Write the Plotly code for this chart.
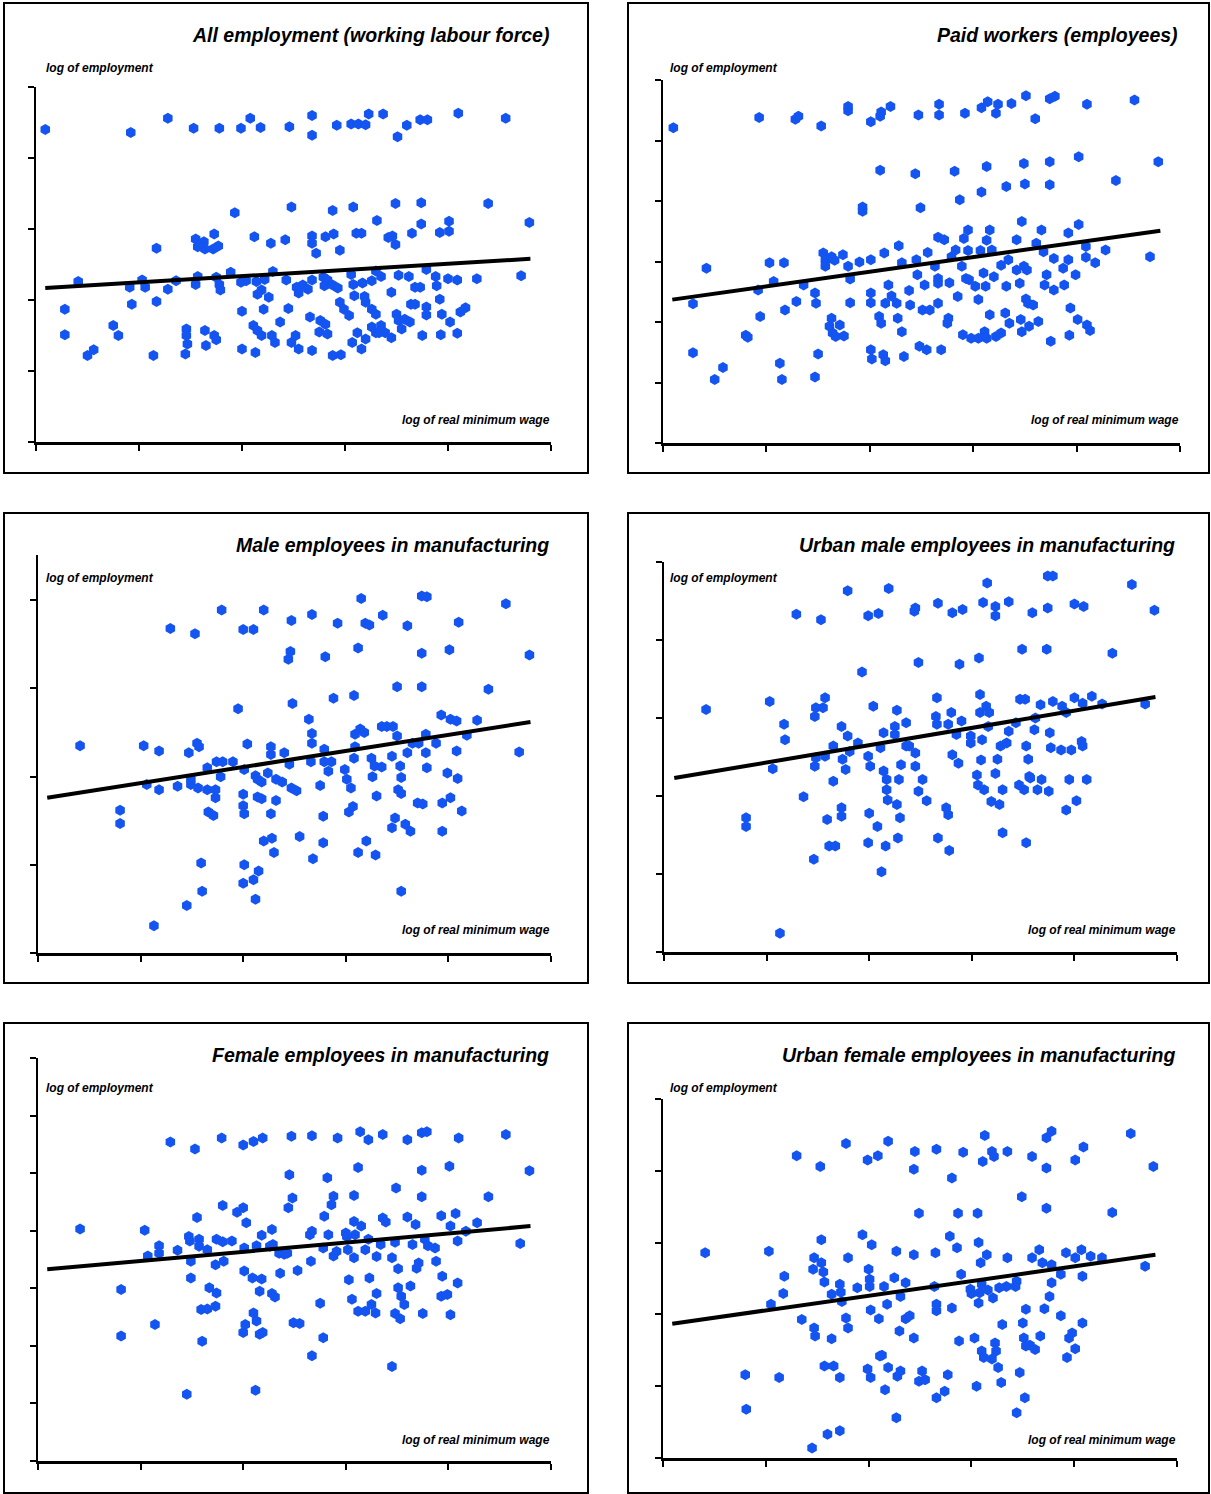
import plotly.graph_objects as go

# ---------------- data (arbitrary log units; axes carry no numeric labels) ----------------
titles = [
    "All employment (working labour force)",
    "Paid workers (employees)",
    "Male employees in manufacturing",
    "Urban male employees in manufacturing",
    "Female employees in manufacturing",
    "Urban female employees in manufacturing",
]
y_label = "log of employment"
x_label = "log of real minimum wage"

all_emp_points = [
    (0.09,4.40),(0.92,4.36),(1.28,4.56),(1.53,4.42),(1.78,4.42),(1.99,4.42),(2.08,4.56),(2.18,4.43),
    (2.46,4.44),(2.68,4.60),(2.68,4.32),(2.92,4.46),(3.06,4.48),(3.13,4.48),(3.20,4.47),(3.23,4.62),
    (3.37,4.62),(3.51,4.30),(3.60,4.46),(3.73,4.54),(3.80,4.54),(4.10,4.63),(4.56,4.56),
    (1.93,3.23),(2.48,3.31),(2.88,3.26),(3.08,3.31),(3.49,3.36),(3.74,3.37),(4.39,3.36),(4.79,3.09),
    (3.31,3.12),(3.74,3.07),(4.01,3.11),(4.01,2.97),(3.92,2.95),(3.65,2.94),(3.46,2.90),(3.42,2.88),
    (3.49,2.78),(3.16,2.94),(3.11,2.94),(2.95,2.70),(2.89,2.93),(2.81,2.89),(2.72,2.66),(2.68,2.90),
    (2.68,2.80),(2.42,2.85),(2.28,2.80),(2.12,2.89),(1.73,2.93),(1.77,2.76),(1.72,2.72),(1.64,2.72),
    (1.63,2.82),(1.55,2.86),(1.57,2.75),(1.17,2.73),
    (0.41,2.26),(0.91,2.18),(1.03,2.28),(1.06,2.18),(1.28,2.15),(1.36,2.27),(1.55,2.22),(1.57,2.33),
    (1.75,2.32),(1.78,2.22),(1.79,2.14),(1.89,2.39),(1.99,2.25),(2.04,2.27),(2.14,2.26),(2.19,2.14),
    (2.15,2.08),(2.22,2.29),(2.30,2.40),(2.26,2.04),(2.43,2.28),(2.53,2.18),(2.55,2.10),(2.59,2.21),
    (2.64,2.15),(2.68,2.28),(2.79,2.32),(2.80,2.20),(2.83,2.28),(2.88,2.21),(2.93,2.17),(3.06,2.36),
    (3.08,2.22),(3.09,2.06),(3.17,2.24),(3.19,2.05),(3.26,2.27),(3.30,2.41),(3.35,2.33),(3.45,2.11),
    (3.52,2.35),(3.62,2.33),(3.68,2.18),(3.73,2.18),(3.79,2.43),(3.88,2.33),(3.89,2.20),(4.00,2.30),
    (4.09,2.28),(4.28,2.30),(4.71,2.34),(3.92,2.01),(3.64,1.94),
    (0.28,1.87),(0.93,1.94),(1.17,1.98),(2.00,1.84),(2.21,1.87),(2.45,1.88),(2.37,1.69),(2.66,1.76),
    (2.95,1.97),(2.99,1.87),(3.04,1.78),(3.20,1.97),(3.26,1.87),(3.30,1.80),(3.68,1.94),(3.79,1.90),
    (3.79,1.79),(3.50,1.80),(3.52,1.71),(3.58,1.73),(3.63,1.69),(3.94,1.80),(4.17,1.89),(4.12,1.83),
    (4.02,1.69),
    (0.28,1.51),(0.75,1.64),(0.80,1.50),(1.46,1.59),(1.46,1.50),(1.47,1.38),(1.45,1.24),(1.64,1.57),
    (1.65,1.36),(1.73,1.50),(1.75,1.44),(2.11,1.64),(2.15,1.57),(2.19,1.50),(2.29,1.50),(2.32,1.40),
    (2.48,1.40),(2.52,1.50),(2.55,1.31),(2.76,1.71),(2.81,1.66),(2.75,1.55),(2.83,1.52),(3.07,1.40),
    (3.12,1.54),(3.16,1.31),(3.20,1.45),(3.26,1.62),(3.30,1.54),(3.33,1.54),(3.39,1.54),(3.45,1.47),
    (3.55,1.59),(3.75,1.50),(3.93,1.51),(4.09,1.53),(0.50,1.22),(0.56,1.30),(1.14,1.22),(2.00,1.31),
    (2.13,1.26),(2.68,1.29),(2.88,1.22),(2.96,1.23),(3.35,1.64),
]
all_emp_trend = [(0.09,2.17),(4.80,2.58)]

paid_points = [
    (0.10,5.21),(0.93,5.38),(1.28,5.35),(1.31,5.40),(1.53,5.24),(1.79,5.56),(1.79,5.49),(2.01,5.31),
    (2.10,5.40),(2.11,5.47),(2.20,5.56),(2.47,5.42),(2.67,5.60),(2.67,5.42),(2.92,5.45),(3.08,5.54),
    (3.14,5.64),(3.22,5.45),(3.24,5.60),(3.37,5.61),(3.51,5.74),(3.60,5.36),(3.74,5.69),(3.79,5.73),
    (4.10,5.60),(4.56,5.67),
    (2.10,4.51),(2.44,4.45),(2.82,4.49),(3.13,4.57),(3.49,4.62),(3.74,4.65),(4.02,4.73),(4.79,4.65),
    (4.38,4.34),(3.74,4.27),(3.50,4.28),(3.32,4.24),(3.08,4.15),(2.87,4.02),(2.49,3.89),(1.93,3.90),
    (1.93,3.83),
    (0.42,2.89),(0.29,2.30),(0.29,1.49),(0.50,1.05),(0.58,1.25),(0.80,1.78),(0.82,1.75),(0.92,2.53),
    (0.94,2.09),(1.03,2.98),(1.07,2.67),(1.17,2.98),(1.18,2.20),(1.13,1.32),(1.15,1.05),(1.29,2.34),
    (1.36,2.61),(1.47,2.48),(1.48,2.31),(1.50,1.47),(1.47,1.09),(1.55,3.14),(1.57,3.02),(1.57,2.92),
    (1.63,3.08),(1.66,3.02),(1.63,2.06),(1.61,1.93),(1.64,1.82),(1.67,1.76),(1.71,1.95),(1.75,1.77),
    (1.74,3.11),(1.79,2.92),(1.81,2.71),(1.81,2.32),(1.90,2.99),(2.01,3.03),(2.01,2.48),(2.01,2.32),
    (2.01,1.54),(2.02,1.39),(2.13,1.46),(2.15,1.36),(2.09,2.09),(2.11,1.98),(2.14,3.14),(2.18,2.61),
    (2.15,2.31),(2.21,2.43),(2.26,2.31),(2.27,2.06),(2.31,1.84),(2.33,1.43),(2.28,3.26),(2.31,2.98),
    (2.38,2.52),(2.39,2.28),(2.45,3.03),(2.46,2.78),(2.53,2.61),(2.51,2.20),(2.58,2.20),(2.56,3.15),
    (2.48,1.60),(2.55,1.54),(2.69,1.54),(2.63,2.92),(2.66,2.72),(2.66,2.64),(2.66,2.31),(2.76,2.06),
    (2.75,1.98),(2.77,2.65),(2.85,2.42),(2.90,1.79),(2.66,3.40),(2.72,3.36),(2.79,3.08),(2.83,3.19),
    (2.89,2.92),(2.91,3.38),(2.95,3.52),(2.95,3.18),(2.93,2.72),(2.96,2.70),(2.98,1.73),(3.05,1.73),
    (3.11,1.84),(3.13,1.73),(3.02,2.59),(3.05,2.37),(3.07,3.18),(3.10,2.81),(3.12,2.59),(3.16,2.12),
    (3.13,3.35),(3.16,3.52),(3.18,3.19),(3.20,2.75),(3.22,1.76),(3.27,1.82),(3.31,2.15),(3.27,2.94),
    (3.32,2.59),(3.35,1.98),(3.34,3.03),(3.42,3.36),(3.42,2.86),(3.45,2.64),(3.47,3.66),(3.49,2.92),
    (3.52,2.86),(3.51,2.38),(3.53,2.31),(3.58,2.28),(3.46,2.04),(3.47,1.84),(3.54,1.93),(3.63,2.01),
    (3.61,3.30),(3.66,3.52),(3.68,3.16),(3.69,2.61),(3.71,2.78),(3.75,1.68),(3.78,3.05),(3.78,2.53),
    (3.87,2.89),(3.88,2.61),(3.92,3.47),(3.92,3.03),(3.94,2.23),(3.93,1.78),(3.99,2.78),(4.02,3.61),
    (4.01,2.04),(4.09,3.25),(4.09,3.07),(4.10,1.95),(4.13,1.86),(4.18,2.98),(4.28,3.19),(4.71,3.08),
]
paid_trend = [(0.09,2.37),(4.81,3.51)]

male_points = [
    (0.41,2.35),(1.03,2.35),(1.18,2.29),(0.80,1.62),(0.80,1.47),(1.06,1.91),(1.18,1.85),(1.36,1.89),
    (1.47,2.27),(1.49,1.97),(1.49,1.91),(1.55,2.38),(1.57,2.34),(1.56,1.87),(1.65,2.10),(1.65,1.85),
    (1.66,1.60),(1.71,1.56),(1.73,1.85),(1.73,1.76),(1.74,2.17),(1.78,2.00),(1.80,2.17),(1.90,2.17),
    (1.95,2.77),(2.04,2.37),(2.01,2.08),(2.00,1.80),(2.00,1.67),(2.01,1.58),(2.01,1.00),(2.00,0.79),
    (2.10,0.83),(2.15,0.93),(2.12,0.61),(2.12,2.01),(2.14,1.97),(2.18,1.94),(2.14,1.77),(2.18,1.75),
    (2.20,1.27),(2.28,1.30),(2.30,1.14),(2.27,1.58),(2.32,1.73),(2.24,2.04),(2.27,2.25),(2.27,2.34),
    (2.32,1.97),(2.38,1.94),(2.40,2.27),(2.45,2.14),(2.46,3.42),(2.44,3.33),(2.48,2.83),(2.47,1.87),
    (2.52,1.84),(2.55,1.32),(2.64,2.65),(2.67,2.49),(2.67,2.38),(2.66,2.17),(2.68,1.07),(2.75,1.90),
    (2.78,1.55),(2.78,1.25),(2.80,3.36),(2.67,3.84),(2.79,2.31),(2.79,2.17),(2.83,2.06),(2.86,2.17),
    (2.88,2.89),(2.92,3.74),(2.99,2.08),(3.01,1.97),(3.03,1.60),(3.05,1.87),(3.07,1.66),(3.08,2.21),
    (3.09,2.34),(3.09,2.48),(3.08,2.92),(3.12,3.46),(3.14,2.54),(3.15,4.02),(3.18,2.50),(3.19,3.74),
    (3.23,3.72),(3.20,1.27),(3.12,1.14),(3.25,2.21),(3.26,2.00),(3.29,1.11),(3.30,1.78),(3.28,2.12),
    (3.35,2.11),(3.35,2.57),(3.36,3.83),(3.40,2.57),(3.46,2.57),(3.45,2.23),(3.50,2.46),(3.53,2.12),
    (3.54,1.99),(3.50,3.02),(3.51,1.85),(3.54,1.81),(3.48,1.53),(3.45,1.42),(3.58,1.46),(3.63,1.38),
    (3.60,2.27),(3.60,3.71),(3.54,0.70),(3.65,2.38),(3.71,2.38),(3.74,3.02),(3.74,3.40),(3.74,4.05),
    (3.79,4.04),(3.78,2.48),(3.78,2.27),(3.79,2.10),(3.70,1.70),(3.75,1.69),(3.88,2.38),(3.93,2.70),
    (3.94,1.70),(3.94,1.38),(3.99,2.04),(4.02,2.65),(4.02,1.76),(4.01,3.44),(4.08,2.29),(4.08,2.63),
    (4.09,1.98),(4.10,3.75),(4.13,1.61),(4.18,2.47),(4.28,2.64),(4.39,2.99),(4.56,3.96),(4.69,2.28),
    (4.79,3.38),(1.13,0.31),(1.45,0.54),(1.60,0.70),(1.59,1.02),
    (1.29,3.68),(1.53,3.62),(1.79,3.89),(2.00,3.67),(2.10,3.67),(2.20,3.89),(2.47,3.77),
]
male_trend = [(0.09,1.76),(4.80,2.62)]

urban_male_points = [
    (0.41,3.11),(1.03,3.21),(1.17,2.92),(1.18,2.72),(1.06,2.35),(0.80,1.72),(0.80,1.61),(1.13,0.24),
    (1.36,1.99),(1.46,1.19),(1.47,3.02),(1.48,3.13),(1.47,2.38),(1.48,2.49),(1.55,3.13),(1.57,3.26),
    (1.57,2.51),(1.59,1.70),(1.61,1.36),(1.67,1.36),(1.65,2.19),(1.65,2.64),(1.73,2.89),(1.74,2.47),
    (1.73,1.85),(1.73,1.74),(1.77,2.34),(1.79,2.77),(1.81,2.57),(1.93,3.59),(1.89,2.68),(1.99,2.51),
    (2.01,2.38),(2.00,1.78),(1.99,1.40),(2.04,3.15),(2.08,1.61),(2.12,1.03),(2.14,2.81),(2.16,1.36),
    (2.11,2.62),(2.14,2.32),(2.17,2.21),(2.17,2.08),(2.18,1.95),(2.27,1.89),(2.27,3.10),(2.25,2.89),
    (2.25,2.79),(2.30,1.72),(2.28,1.46),(2.31,2.40),(2.29,2.21),(2.36,2.94),(2.36,2.64),(2.39,2.64),
    (2.45,2.55),(2.45,2.38),(2.48,2.06),(2.52,2.21),(2.56,1.94),(2.48,3.71),(2.44,4.37),(2.45,4.41),
    (2.66,3.26),(2.65,3.02),(2.66,2.92),(2.75,1.85),(2.77,1.76),(2.67,1.46),(2.78,1.30),(2.77,2.92),
    (2.80,3.07),(2.81,2.53),(2.85,2.79),(2.87,2.42),(2.90,2.96),(2.88,3.69),(2.81,4.35),(2.91,4.39),
    (2.99,2.68),(2.99,2.77),(3.05,2.27),(3.06,2.14),(3.07,3.77),(3.08,3.30),(3.08,3.07),(3.09,2.46),
    (3.10,2.72),(3.12,2.08),(3.11,4.48),(3.14,3.15),(3.16,2.89),(3.17,3.07),(3.15,4.73),(3.19,1.93),
    (3.23,4.43),(3.23,4.31),(3.23,2.29),(3.25,2.47),(3.27,1.89),(3.30,2.08),(3.30,1.53),(3.28,2.64),
    (3.34,2.68),(3.36,2.83),(3.36,4.49),(3.43,2.94),(3.46,2.14),(3.47,3.24),(3.49,3.88),(3.52,3.24),
    (3.51,2.08),(3.53,2.64),(3.55,2.47),(3.53,1.40),(3.56,2.25),(3.57,2.23),(3.59,4.35),(3.61,2.85),
    (3.62,3.00),(3.64,2.08),(3.67,3.17),(3.68,2.21),(3.73,3.88),(3.74,4.41),(3.74,4.82),(3.79,4.82),
    (3.75,2.06),(3.76,2.81),(3.77,2.62),(3.79,3.21),(3.87,2.59),(3.88,3.15),(3.92,3.07),(3.92,1.82),
    (3.95,2.21),(3.97,2.59),(4.00,4.46),(4.02,1.94),(4.00,3.26),(4.07,2.70),(4.08,2.64),(4.09,4.43),
    (4.08,3.19),(4.12,2.21),(4.17,3.28),(4.27,3.18),(4.37,3.83),(4.56,4.71),(4.69,3.18),(4.78,4.38),
    (1.29,4.33),(1.53,4.26),(1.79,4.63),(1.99,4.31),(2.09,4.34),(2.19,4.66),(2.67,4.47),
]
urban_male_trend = [(0.10,2.23),(4.79,3.27)]

female_points = [
    (0.41,4.03),(1.04,4.01),(1.07,3.56),(1.18,3.74),(1.18,3.61),(0.81,2.98),(0.81,2.17),(1.14,2.37),
    (1.36,3.66),(1.48,3.82),(1.49,3.47),(1.49,3.18),(1.47,3.90),(1.45,1.16),(1.55,4.23),(1.57,3.85),
    (1.57,3.73),(1.60,2.08),(1.59,2.63),(1.65,2.64),(1.65,3.67),(1.67,3.01),(1.73,3.41),(1.74,3.85),
    (1.74,2.92),(1.73,2.69),(1.80,4.44),(1.80,3.81),(1.81,3.47),(1.89,3.82),(1.94,4.32),(2.00,4.40),
    (2.03,4.14),(2.01,3.70),(2.01,3.30),(2.00,2.23),(2.02,2.37),(2.09,3.18),(2.10,2.57),(2.13,2.43),
    (2.16,2.20),(2.19,2.23),(2.16,2.95),(2.18,3.16),(2.18,3.92),(2.13,3.74),(2.12,1.23),(2.26,3.73),
    (2.28,4.02),(2.29,3.76),(2.28,2.91),(2.31,2.85),(2.35,3.61),(2.36,3.26),(2.40,3.59),(2.44,4.40),
    (2.45,4.97),(2.48,4.57),(2.43,3.61),(2.49,2.40),(2.55,2.39),(2.53,3.31),(2.65,3.93),(2.67,3.99),
    (2.66,3.47),(2.75,2.74),(2.78,2.14),(2.67,1.83),(2.79,4.25),(2.83,3.93),(2.78,3.70),(2.86,4.45),
    (2.88,4.60),(2.82,4.92),(2.88,3.56),(2.91,3.64),(3.01,3.90),(3.00,3.96),(3.02,3.67),(3.03,3.15),
    (3.06,2.81),(3.08,4.16),(3.09,3.93),(3.08,3.53),(3.08,4.61),(3.12,5.10),(3.15,4.08),(3.12,2.60),
    (3.19,2.60),(3.19,3.67),(3.22,3.85),(3.23,3.18),(3.25,2.72),(3.29,2.57),(3.30,2.91),(3.30,3.55),
    (3.36,4.22),(3.39,4.15),(3.34,3.76),(3.45,3.53),(3.48,3.80),(3.49,4.74),(3.48,2.56),(3.51,3.34),
    (3.51,3.01),(3.53,2.47),(3.54,2.86),(3.57,2.72),(3.63,3.04),(3.65,3.76),(3.60,4.24),(3.68,4.11),
    (3.69,3.35),(3.71,3.44),(3.74,5.05),(3.74,4.59),(3.75,2.56),(3.77,3.85),(3.80,3.74),(3.87,3.70),
    (3.88,3.47),(3.93,4.26),(3.94,3.21),(3.93,2.86),(3.99,2.89),(4.02,2.54),(4.02,4.08),(4.07,4.30),
    (4.09,3.82),(4.09,3.09),(4.17,3.99),(4.28,4.14),(4.39,4.59),(4.70,3.78),(4.79,5.04),(3.45,1.64),
    (2.67,5.65),(2.47,5.64),(2.92,5.61),(3.14,5.72),(3.22,5.58),(3.36,5.67),(3.60,5.58),(3.74,5.70),
    (3.79,5.72),(4.10,5.61),(4.56,5.67),(1.29,5.54),(1.53,5.42),(1.79,5.61),(2.00,5.49),(2.10,5.55),
    (2.19,5.61),(4.01,5.12),
]
female_trend = [(0.09,3.33),(4.80,4.08)]

urban_female_points = [
    (0.41,2.86),(1.03,2.88),(1.18,2.53),(1.17,2.29),(1.05,2.14),(0.80,1.16),(0.81,0.68),(1.13,1.12),
    (1.35,1.93),(1.46,2.63),(1.47,2.79),(1.47,1.81),(1.48,1.70),(1.45,0.14),(1.54,3.04),(1.54,2.72),
    (1.56,2.59),(1.57,2.45),(1.57,1.28),(1.60,0.33),(1.64,1.66),(1.64,2.28),(1.66,1.28),(1.72,1.12),
    (1.72,0.38),(1.72,2.42),(1.73,2.31),(1.74,2.18),(1.78,1.95),(1.80,1.81),(1.80,2.79),(1.89,2.37),
    (1.94,3.11),(2.00,2.63),(2.01,2.49),(2.01,2.39),(1.99,1.24),(2.02,1.12),(2.02,2.06),(2.03,2.97),
    (2.10,1.94),(2.11,1.42),(2.13,1.43),(2.15,2.39),(2.16,0.95),(2.19,1.26),(2.18,2.14),(2.25,2.51),
    (2.27,2.88),(2.28,1.14),(2.31,1.21),(2.27,0.56),(2.30,1.77),(2.31,2.25),(2.36,2.44),(2.36,1.94),
    (2.40,1.98),(2.44,1.67),(2.44,2.83),(2.44,4.02),(2.49,3.41),(2.52,1.21),(2.49,1.07),(2.55,1.09),
    (2.64,2.39),(2.65,2.86),(2.66,2.14),(2.66,2.05),(2.66,0.84),(2.74,0.93),(2.77,1.16),(2.79,3.09),
    (2.81,2.09),(2.86,2.93),(2.87,3.41),(2.88,1.63),(2.90,2.56),(2.81,3.90),(2.92,4.26),(2.99,2.35),
    (3.00,2.29),(3.03,1.67),(3.05,1.00),(3.06,3.41),(3.07,3.00),(3.07,2.16),(3.08,2.30),(3.09,2.72),
    (3.10,2.42),(3.10,1.49),(3.12,1.40),(3.15,2.83),(3.16,2.34),(3.20,1.38),(3.21,2.23),(3.23,1.60),
    (3.24,1.49),(3.26,1.26),(3.27,2.37),(3.29,1.05),(3.30,1.86),(3.34,2.39),(3.35,2.79),(3.43,2.39),
    (3.44,2.46),(3.47,1.19),(3.49,3.64),(3.44,0.63),(3.52,0.84),(3.50,1.88),(3.53,2.07),(3.51,1.67),
    (3.53,1.56),(3.57,1.57),(3.59,2.79),(3.62,1.51),(3.67,1.70),(3.66,2.90),(3.69,2.72),(3.71,2.08),
    (3.76,2.25),(3.78,2.44),(3.78,2.69),(3.73,3.48),(3.73,4.04),(3.73,4.46),(3.78,4.55),(3.87,1.98),
    (3.87,2.56),(3.92,2.86),(3.95,1.67),(3.93,1.40),(3.98,1.74),(4.01,1.52),(4.01,2.79),(4.01,4.15),
    (4.07,2.90),(4.08,2.53),(4.08,1.88),(4.09,4.33),(4.16,2.81),(4.27,2.79),(4.37,3.42),(4.55,4.52),
    (4.69,2.67),(4.77,4.06),
    (1.30,4.21),(1.53,4.06),(1.78,4.38),(1.99,4.15),(2.09,4.21),(2.19,4.41),(2.45,4.27),(2.66,4.30),
    (3.11,4.13),(3.13,4.49),(3.20,4.27),(3.22,4.20),(3.35,4.27),(3.59,4.20),
]
urban_female_trend = [(0.09,1.87),(4.79,2.83)]

panel_points = [all_emp_points, paid_points, male_points, urban_male_points, female_points, urban_female_points]
panel_trends = [all_emp_trend, paid_trend, male_trend, urban_male_trend, female_trend, urban_female_trend]
x_ticks = [0, 1, 2, 3, 4, 5]
y_tick_counts = [5, 6, 4, 5, 7, 5]

# ---------------- layout geometry (pixels of the 1211x1494 page) ----------------
W, H = 1211, 1494
geom = [
    dict(box=(4, 3, 588, 473),      xpx=(36, 551),   ypx=(442, 87),    ytop=5.0),
    dict(box=(628, 3, 1209, 473),   xpx=(663, 1180), ypx=(443, 80),    ytop=6.0),
    dict(box=(4, 513, 588, 983),    xpx=(38, 551),   ypx=(953, 554.7), ytop=4.517),
    dict(box=(628, 513, 1209, 983), xpx=(664, 1177), ypx=(952, 562),   ytop=5.0),
    dict(box=(4, 1023, 588, 1493),  xpx=(38, 551),   ypx=(1461, 1058), ytop=7.0),
    dict(box=(628, 1023, 1209, 1493), xpx=(663, 1177), ypx=(1458, 1099), ytop=5.0),
]

def px(v):
    return v / W

def py(v):
    return 1 - v / H

MARKER_COLOR = "#1454F0"
FONT = "Liberation Sans"

fig = go.Figure()
layout = dict(
    width=W, height=H,
    margin=dict(l=0, r=0, t=0, b=0),
    paper_bgcolor="white", plot_bgcolor="white",
    showlegend=False,
    shapes=[], annotations=[],
)

for i in range(6):
    g = geom[i]
    n = i + 1
    xa = "x" if n == 1 else f"x{n}"
    ya = "y" if n == 1 else f"y{n}"
    xkey = "xaxis" if n == 1 else f"xaxis{n}"
    ykey = "yaxis" if n == 1 else f"yaxis{n}"
    pts = panel_points[i]
    fig.add_trace(go.Scatter(
        x=[p[0] for p in pts], y=[p[1] for p in pts], mode="markers", xaxis=xa, yaxis=ya,
        marker=dict(symbol="hexagon", size=11, color=MARKER_COLOR, line=dict(width=0)),
        hoverinfo="skip",
    ))
    tr = panel_trends[i]
    fig.add_trace(go.Scatter(
        x=[p[0] for p in tr], y=[p[1] for p in tr], mode="lines", xaxis=xa, yaxis=ya,
        line=dict(color="black", width=4), hoverinfo="skip",
    ))
    common = dict(showline=True, linecolor="black", linewidth=2.5, ticks="outside",
                  ticklen=6, tickwidth=2, tickcolor="black", showticklabels=False,
                  showgrid=False, zeroline=False, fixedrange=True)
    layout[xkey] = dict(domain=[px(g["xpx"][0]), px(g["xpx"][1])], range=[0, 5],
                        tickvals=x_ticks, anchor=ya, **common)
    layout[ykey] = dict(domain=[py(g["ypx"][0]), py(g["ypx"][1])], range=[0, g["ytop"]],
                        tickvals=list(range(y_tick_counts[i] + 1)), anchor=xa, **common)
    l, t, r, b = g["box"]
    layout["shapes"].append(dict(type="rect", xref="paper", yref="paper",
                                 x0=px(l), x1=px(r), y0=py(b), y1=py(t),
                                 line=dict(color="black", width=2), fillcolor="rgba(0,0,0,0)"))
    layout["annotations"].append(dict(
        text=titles[i], xref="paper", yref="paper", x=px(g["xpx"][1]), y=py(t + 32),
        xanchor="right", yanchor="middle", showarrow=False,
        font=dict(family=FONT, size=19.5, color="black", weight="bold", style="italic")))
    layout["annotations"].append(dict(
        text=y_label, xref="paper", yref="paper", x=px(l + 40), y=py(t + 65),
        xanchor="left", yanchor="middle", showarrow=False,
        font=dict(family=FONT, size=12, color="black", weight="bold", style="italic")))
    layout["annotations"].append(dict(
        text=x_label, xref="paper", yref="paper", x=px(g["xpx"][1] + 1), y=py(t + 417),
        xanchor="right", yanchor="middle", showarrow=False,
        font=dict(family=FONT, size=12, color="black", weight="bold", style="italic")))

fig.update_layout(**layout)
fig.write_html("out.html",
               config={"displayModeBar": False, "staticPlot": True},
               post_script="document.body.style.margin='0';document.body.style.overflow='hidden';")
